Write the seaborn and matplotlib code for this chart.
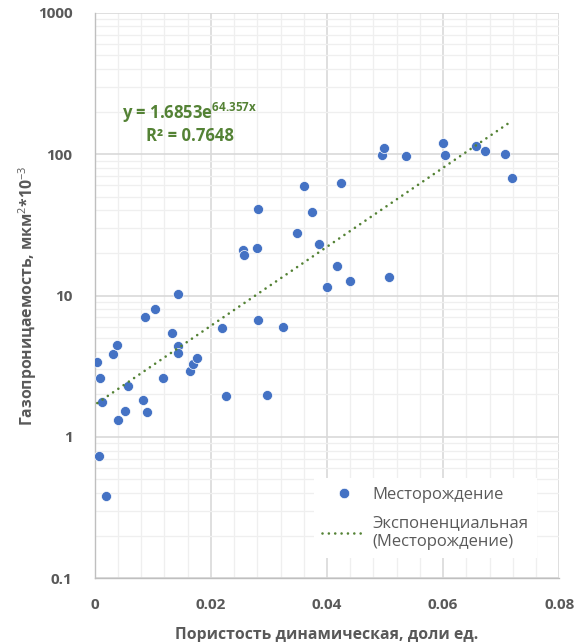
import numpy as np
import pandas as pd
import matplotlib
matplotlib.use("Agg")
import matplotlib.pyplot as plt
from matplotlib.ticker import FixedLocator, NullFormatter, LogLocator
from matplotlib.lines import Line2D
import seaborn as sns

# Dynamic porosity (fraction) and gas permeability (mkm^2 * 10^-3) of core samples
porosity = [0.00045, 0.00096, 0.0012, 0.0008, 0.0020, 0.0032, 0.0039, 0.0040,
            0.0052, 0.0057, 0.0084, 0.0090, 0.0087, 0.0103, 0.0118, 0.0133,
            0.0143, 0.0143, 0.0143, 0.0164, 0.0170, 0.0177, 0.0220, 0.0226,
            0.0255, 0.0257, 0.0279, 0.0281, 0.0281, 0.0296, 0.0325, 0.0349,
            0.0360, 0.0374, 0.0387, 0.0400, 0.0417, 0.0424, 0.0439, 0.0494,
            0.0498, 0.0506, 0.0536, 0.0600, 0.0603, 0.0657, 0.0672, 0.0706,
            0.0719]
permeability = [3.41, 2.63, 1.76, 0.734, 0.381, 3.83, 4.50, 1.31,
                1.52, 2.29, 1.81, 1.50, 7.06, 8.09, 2.63, 5.47,
                10.2, 4.43, 3.95, 2.93, 3.30, 3.64, 5.87, 1.94,
                20.9, 19.2, 21.7, 40.6, 6.69, 1.97, 5.94, 27.9,
                59.6, 39.0, 23.2, 11.5, 16.3, 62.6, 12.6, 98.2,
                111.0, 13.5, 96.2, 119.0, 98.2, 114.0, 106.0, 99.4,
                68.3]

# Exponential trend y = a * exp(b * x)
trend_a = 1.6853
trend_b = 64.357
trend_r2 = 0.7648

series_name = "Месторождение"
trend_name = "Экспоненциальная\n(Месторождение)"
x_label = "Пористость динамическая, доли ед."
y_label = "Газопроницаемость, мкм$^{2}$*10$^{-3}$"
x_ticks = [0, 0.02, 0.04, 0.06, 0.08]
x_tick_labels = ["0", "0.02", "0.04", "0.06", "0.08"]
y_ticks = [0.1, 1, 10, 100, 1000]
y_tick_labels = ["0.1", "1", "10", "100", "1000"]

sns.set_theme(style="white")
plt.rcParams["font.family"] = ["Open Sans", "DejaVu Sans"]
plt.rcParams["mathtext.fontset"] = "custom"
plt.rcParams["mathtext.rm"] = "Open Sans"
plt.rcParams["mathtext.bf"] = "Open Sans:bold"

GRAY_TXT = "#595959"
BLUE = "#4472C4"
GREEN = "#548235"

df = pd.DataFrame({"x": porosity, "y": permeability})
xs = np.linspace(min(porosity), max(porosity), 200)
trend_df = pd.DataFrame({"x": xs, "y": trend_a * np.exp(trend_b * xs)})

fig = plt.figure(figsize=(5.87, 6.42), dpi=100)
ax = fig.add_axes([0.1613, 0.0992, 0.7915, 0.881])

sns.scatterplot(data=df, x="x", y="y", ax=ax, s=52, color=BLUE,
                edgecolor="white", linewidth=0.5, zorder=3, legend=False)
sns.lineplot(data=trend_df, x="x", y="y", ax=ax, color=GREEN, lw=1.9,
             linestyle=(0, (0.01, 2.4)), dash_capstyle="round",
             estimator=None, zorder=4, legend=False)

ax.set_yscale("log")
ax.set_xlim(0, 0.08)
ax.set_ylim(0.1, 1000)

# grid: major and minor lines
ax.xaxis.set_major_locator(FixedLocator(x_ticks))
ax.xaxis.set_minor_locator(FixedLocator(np.arange(0, 0.0801, 0.004)))
ax.yaxis.set_major_locator(FixedLocator(y_ticks))
ax.yaxis.set_minor_locator(LogLocator(base=10, subs=np.arange(2, 10)))
ax.yaxis.set_minor_formatter(NullFormatter())
ax.set_xticklabels(x_tick_labels)
ax.set_yticklabels(y_tick_labels)
ax.grid(which="major", color="#d9d9d9", lw=1.2, zorder=0)
ax.grid(which="minor", color="#efefef", lw=0.9, zorder=0)
ax.set_axisbelow(True)

ax.tick_params(which="both", length=0)
ax.tick_params(axis="x", pad=14, labelsize=11, labelcolor=GRAY_TXT)
ax.tick_params(axis="y", pad=16, labelsize=11, labelcolor=GRAY_TXT)
for lab in ax.get_xticklabels() + ax.get_yticklabels():
    lab.set_fontweight("bold")

for side in ["top", "right"]:
    ax.spines[side].set_visible(False)
for side in ["left", "bottom"]:
    ax.spines[side].set_color("#bfbfbf")
    ax.spines[side].set_linewidth(1.0)

ax.set_xlabel(x_label, fontsize=11.3, fontweight="bold", color=GRAY_TXT, labelpad=11)
ax.set_ylabel(y_label, fontsize=11.3, fontweight="bold", color=GRAY_TXT, labelpad=-1)

# trend equation
eq = f"y = {trend_a:.4f}e$^{{\\mathbf{{{trend_b:.3f}x}}}}$"
ax.text(0.205, 0.8227, eq, transform=ax.transAxes, ha="center", va="center",
        fontsize=12, fontweight="bold", color=GREEN)
ax.text(0.205, 0.7825, f"R² = {trend_r2:.4f}", transform=ax.transAxes,
        ha="center", va="center", fontsize=12, fontweight="bold", color=GREEN)

handles = [
    Line2D([], [], marker="o", ls="none", color=BLUE, markersize=7.5,
           markeredgecolor="white", markeredgewidth=0.5),
    Line2D([], [], color=GREEN, lw=1.9, linestyle=(0, (0.01, 2.4)),
           dash_capstyle="round"),
]
leg = ax.legend(handles, [series_name, trend_name], loc="lower left",
                bbox_to_anchor=(0.472, 0.036), borderaxespad=0,
                frameon=True, fancybox=False, framealpha=1,
                facecolor="white", edgecolor="none",
                fontsize=12, handlelength=2.6, handletextpad=0.4,
                labelspacing=0.75, borderpad=0.5)
for t in leg.get_texts():
    t.set_color(GRAY_TXT)

fig.savefig("out.png", dpi=100)
